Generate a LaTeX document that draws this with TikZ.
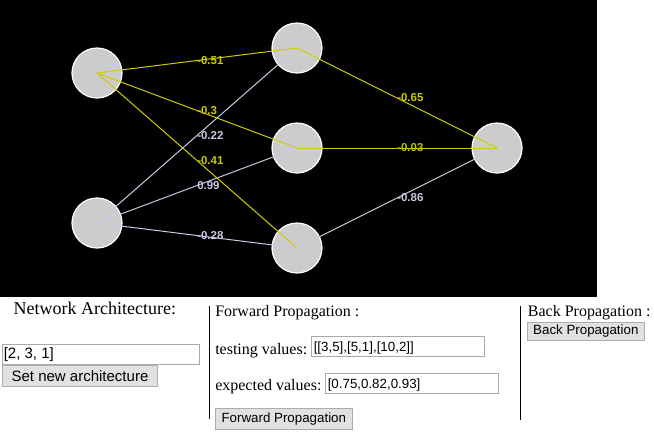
\documentclass[tikz,border=0pt]{standalone}
\usepackage{fontspec}
\setmainfont{Liberation Serif}
\newfontfamily\uisans{Liberation Sans}
\definecolor{yellowc}{RGB}{204,204,0}
\definecolor{lavc}{RGB}{200,200,228}
\definecolor{nodefill}{RGB}{204,204,204}
\definecolor{btnfill}{RGB}{225,225,225}
\definecolor{btnline}{RGB}{173,173,173}
\definecolor{boxline}{RGB}{169,169,169}
\tikzset{
  neuron/.style={circle, fill=nodefill, draw=white, line width=0.9pt, minimum size=37.5pt, inner sep=0pt},
  ywire/.style={draw=yellowc, line width=0.75pt},
  lwire/.style={draw=lavc, line width=0.75pt},
  wlabel/.style={anchor=west, inner sep=0pt, font=\uisans\bfseries\fontsize{8.6}{10}\selectfont},
  serifL/.style={inner sep=0pt, font=\fontsize{13.5}{16}\selectfont},
  serifM/.style={inner sep=0pt, font=\fontsize{12}{14}\selectfont},
  sansL/.style={inner sep=0pt, font=\uisans\fontsize{11.25}{13}\selectfont},
  sansM/.style={inner sep=0pt, font=\uisans\fontsize{10}{12}\selectfont},
  inbox/.style={rectangle, draw=boxline, fill=white, line width=0.75pt, inner sep=0pt},
  btn/.style={rectangle, draw=btnline, fill=btnfill, line width=0.75pt, inner sep=0pt},
  sepline/.style={draw=black, line width=0.75pt}
}
\begin{document}
\begin{tikzpicture}[x=0.75pt,y=-0.75pt]
\useasboundingbox (0,0) rectangle (654,437);
\fill[white] (0,0) rectangle (654,437);
\fill[black] (0,0) rectangle (597,297);
% neurons
\node[neuron] (i1) at (97,73) {};
\node[neuron] (i2) at (97,223) {};
\node[neuron] (h1) at (297,48) {};
\node[neuron] (h2) at (297,148) {};
\node[neuron] (h3) at (297,248) {};
\node[neuron] (o1) at (497,148) {};
% wires
\draw[lwire] (i2.center) -- (h1.center);
\draw[lwire] (i2.center) -- (h2.center);
\draw[lwire] (i2.center) -- (h3.center);
\draw[lwire] (h3.center) -- (o1.center);
\draw[ywire] (i1.center) -- (h1.center);
\draw[ywire] (i1.center) -- (h2.center);
\draw[ywire] (i1.center) -- (h3.center);
\draw[ywire] (h1.center) -- (o1.center);
\draw[ywire] (h2.center) -- (o1.center);
% weight labels
\path (i1.center) -- (h1.center) node[wlabel, text=yellowc, pos=0.5] (w11) {-0.51};
\path (i1.center) -- (h2.center) node[wlabel, text=yellowc, pos=0.5] (w12) {-0.3};
\path (i1.center) -- (h3.center) node[wlabel, text=yellowc, pos=0.5] (w13) {-0.41};
\path (i2.center) -- (h1.center) node[wlabel, text=lavc, pos=0.5] (w21) {-0.22};
\path (i2.center) -- (h2.center) node[wlabel, text=lavc, pos=0.5] (w22) {0.99};
\path (i2.center) -- (h3.center) node[wlabel, text=lavc, pos=0.5] (w23) {-0.28};
\path (h1.center) -- (o1.center) node[wlabel, text=yellowc, pos=0.5] (v1) {-0.65};
\path (h2.center) -- (o1.center) node[wlabel, text=yellowc!80!gray, pos=0.5] (v2) {-0.03};
\path (h3.center) -- (o1.center) node[wlabel, text=lavc, pos=0.5] (v3) {-0.86};
% left panel
\node[serifL, anchor=base west] (archtitle) at (13.3,314) {Network Architecture:};
\node[inbox, anchor=north west, minimum width=147.75pt, minimum height=15pt] (archbox) at (2,344) {};
\node[sansL, anchor=base west] (archval) at (3.5,358.5) {[2, 3, 1]};
\node[btn, sansL, anchor=north west, minimum width=115.8pt, minimum height=15.75pt] (archbtn) at (2.3,365) {Set new architecture};
% separators
\coordinate (s1a) at (209.5,306);
\coordinate (s1b) at (209.5,419);
\coordinate (s2a) at (520.5,306);
\coordinate (s2b) at (520.5,420);
\draw[sepline] (s1a) -- (s1b);
\draw[sepline] (s2a) -- (s2b);
% middle panel
\node[serifM, anchor=base west] (fwdtitle) at (215,316) {Forward Propagation :};
\node[serifM, anchor=base west] (testlbl) at (215,354) {testing values:};
\node[inbox, anchor=north west, minimum width=130pt, minimum height=14.75pt] (testbox) at (311,336) {};
\node[sansM, anchor=base west] (testval) at (313.5,351.5) {[[3,5],[5,1],[10,2]]};
\node[serifM, anchor=base west] (explbl) at (215,390.5) {expected values:};
\node[inbox, anchor=north west, minimum width=129.5pt, minimum height=15pt] (expbox) at (325,372.7) {};
\node[sansM, anchor=base west] (expval) at (327.5,388.3) {[0.75,0.82,0.93]};
\node[btn, sansM, anchor=north west, minimum width=102.5pt, minimum height=15.75pt] (fwdbtn) at (215,408.3) {Forward Propagation};
% right panel
\node[serifM, anchor=base west] (backtitle) at (527.7,316) {Back Propagation :};
\node[btn, sansM, anchor=north west, minimum width=88pt, minimum height=13.75pt] (backbtn) at (526.7,321.7) {Back Propagation};
\end{tikzpicture}
\end{document}
